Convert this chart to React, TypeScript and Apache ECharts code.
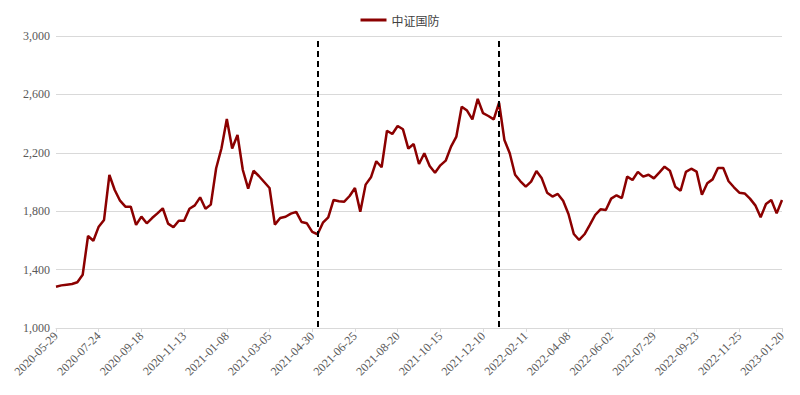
import React, { useEffect, useRef } from "react";
import * as echarts from "echarts";

// Weekly closing values of 中证国防
const seriesName = "中证国防";
const values: number[] = [
  1283, 1292, 1297, 1301, 1313, 1365, 1630, 1598, 1694, 1740,
  2048, 1945, 1872, 1831, 1831, 1706, 1763, 1717, 1753, 1785,
  1820, 1715, 1690, 1735, 1735, 1817, 1840, 1895, 1817, 1845,
  2094, 2231, 2432, 2229, 2322, 2082, 1954, 2077, 2041, 2000,
  1959, 1708, 1753, 1762, 1783, 1795, 1726, 1717, 1658, 1642,
  1721, 1758, 1877, 1868, 1865, 1904, 1959, 1797, 1982, 2032,
  2142, 2101, 2351, 2329, 2384, 2361, 2229, 2260, 2123, 2197,
  2110, 2064, 2114, 2146, 2242, 2311, 2516, 2489, 2429, 2569,
  2471, 2452, 2429, 2543, 2288, 2197, 2050, 2005, 1968, 2003,
  2075, 2025, 1927, 1900, 1918, 1872, 1781, 1644, 1603, 1642,
  1706, 1774, 1813, 1808, 1886, 1909, 1890, 2037, 2014, 2069,
  2037, 2050, 2025, 2064, 2105, 2077, 1968, 1940, 2069, 2091,
  2071, 1913, 1991, 2018, 2096, 2096, 2005, 1964, 1927, 1922,
  1886, 1840, 1758, 1849, 1877, 1785, 1877,
];

// Tick labels shown on the category axis (every 8th week)
const tickLabels: string[] = [
  "2020-05-29", "2020-07-24", "2020-09-18", "2020-11-13", "2021-01-08",
  "2021-03-05", "2021-04-30", "2021-06-25", "2021-08-20", "2021-10-15",
  "2021-12-10", "2022-02-11", "2022-04-08", "2022-06-02", "2022-07-29",
  "2022-09-23", "2022-11-25", "2023-01-20",
];

// Weeks without trading (holidays) and Friday holidays replaced by Thursday
const startDate = "2020-05-29";
const skippedWeeks: string[] = ["2022-02-04", "2022-10-07"];
const shiftedDays: Record<string, string> = { "2022-06-03": "2022-06-02" };

// Dashed marker positions (category indices)
const markerIndices: number[] = [49, 83];

const yMin = 1000;
const yMax = 3000;
const yInterval = 400;

function buildCategories(n: number): string[] {
  const out: string[] = [];
  const d = new Date(startDate + "T00:00:00Z");
  while (out.length < n) {
    const s = d.toISOString().slice(0, 10);
    if (!skippedWeeks.includes(s)) out.push(shiftedDays[s] || s);
    d.setUTCDate(d.getUTCDate() + 7);
  }
  return out;
}

const categories = buildCategories(values.length);

export default function App() {
  const ref = useRef<HTMLDivElement>(null);
  useEffect(() => {
    if (!ref.current) return;
    const chart = echarts.init(ref.current, undefined, { renderer: "svg" });
    const serif = "'Liberation Serif', 'Times New Roman', serif";
    chart.setOption({
      animation: false,
      backgroundColor: "#ffffff",
      legend: {
        top: 9,
        left: "center",
        itemWidth: 26,
        itemHeight: 3,
        icon: "rect",
        itemGap: 10,
        textStyle: {
          fontFamily: "'Noto Sans CJK SC', sans-serif",
          fontSize: 12,
          color: "#404040",
        },
        data: [seriesName],
      },
      grid: { left: 56, right: 18, top: 36, bottom: 67, containLabel: false },
      xAxis: {
        type: "category",
        data: categories,
        boundaryGap: false,
        axisLine: { show: true, lineStyle: { color: "#d9d9d9", width: 1 } },
        axisTick: {
          show: true,
          interval: 7,
          length: 4,
          lineStyle: { color: "#d9d9d9" },
        },
        axisLabel: {
          interval: 7,
          rotate: 45,
          margin: 6,
          fontFamily: serif,
          fontSize: 12,
          color: "#595959",
          formatter: (_v: string, idx: number) =>
            idx % 8 === 0 ? tickLabels[idx / 8] ?? _v : _v,
        },
        splitLine: { show: false },
      },
      yAxis: {
        type: "value",
        min: yMin,
        max: yMax,
        interval: yInterval,
        axisLine: { show: false },
        axisTick: { show: false },
        axisLabel: {
          fontFamily: serif,
          fontSize: 12,
          color: "#595959",
          margin: 6,
          formatter: (v: number) => v.toLocaleString("en-US"),
        },
        splitLine: { lineStyle: { color: "#d9d9d9", width: 1 } },
      },
      series: [
        {
          name: seriesName,
          type: "line",
          data: values,
          showSymbol: false,
          symbol: "none",
          lineStyle: { color: "#8b0000", width: 2.5 },
          itemStyle: { color: "#8b0000" },
          markLine: {
            silent: true,
            symbol: "none",
            label: { show: false },
            lineStyle: { color: "#000000", width: 2, type: [6, 4] },
            data: markerIndices.map((i) => [
              { coord: [i, 2965] },
              { coord: [i, 1000] },
            ]),
          },
        },
      ],
    });
    return () => chart.dispose();
  }, []);
  return (
    <div
      ref={ref}
      style={{ position: "fixed", left: 0, top: 0, width: 800, height: 395 }}
    />
  );
}
